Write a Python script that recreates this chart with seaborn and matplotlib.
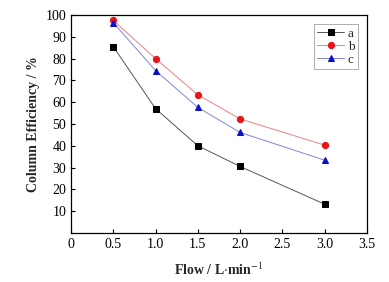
import matplotlib
matplotlib.use("Agg")
import matplotlib.pyplot as plt
import pandas as pd
import seaborn as sns

flow = [0.5, 1.0, 1.5, 2.0, 3.0]
eff_a = [85.5, 57.0, 40.0, 30.5, 13.2]
eff_b = [97.5, 80.0, 63.4, 52.3, 40.3]
eff_c = [96.5, 74.5, 57.6, 46.1, 33.4]

sns.set_style("ticks")
plt.rcParams["font.family"] = ["Liberation Serif", "DejaVu Serif"]
plt.rcParams["mathtext.fontset"] = "stix"
plt.rcParams["xtick.direction"] = "in"
plt.rcParams["ytick.direction"] = "in"

df = pd.DataFrame({
    "flow": flow * 3,
    "eff": eff_a + eff_b + eff_c,
    "Type": ["a"] * 5 + ["b"] * 5 + ["c"] * 5,
})

fig = plt.figure(figsize=(3.89, 2.82), dpi=100)
ax = fig.add_axes([0.1825, 0.174, 0.7605, 0.773])

line_colors = {"a": "#555555", "b": "#f08080", "c": "#7f86d8"}
marker_colors = {"a": "black", "b": "#e8141c", "c": "#0a10c8"}
markers = {"a": "s", "b": "o", "c": "^"}

for t in ["a", "b", "c"]:
    sns.lineplot(
        data=df[df["Type"] == t], x="flow", y="eff", ax=ax,
        color=line_colors[t], linewidth=0.7, marker=markers[t],
        markersize=4.5, markerfacecolor=marker_colors[t],
        markeredgecolor=marker_colors[t], label=t,
    )

ax.set_xlim(0, 3.5)
ax.set_ylim(0, 100)
ax.set_xticks([0, 0.5, 1.0, 1.5, 2.0, 2.5, 3.0, 3.5])
ax.set_xticklabels(["0", "0.5", "1.0", "1.5", "2.0", "2.5", "3.0", "3.5"])
ax.set_yticks(range(10, 101, 10))
ax.tick_params(labelsize=10, length=3, width=0.8, colors="black")
for s in ax.spines.values():
    s.set_linewidth(0.9)
    s.set_color("black")

ax.set_xlabel(r"Flow / L$\cdot$min$^{-1}$", fontsize=10, fontweight="bold", labelpad=8)
ax.set_ylabel("Column Efficiency / %", fontsize=10, fontweight="bold", labelpad=4)

leg = ax.legend(loc="upper right", fontsize=9.5, frameon=True, fancybox=False,
                edgecolor="#888888", handlelength=2.0, borderpad=0.25,
                labelspacing=0.05, handletextpad=0.3, borderaxespad=0.7)
leg.get_frame().set_linewidth(0.6)

fig.savefig("out.png", dpi=100)
